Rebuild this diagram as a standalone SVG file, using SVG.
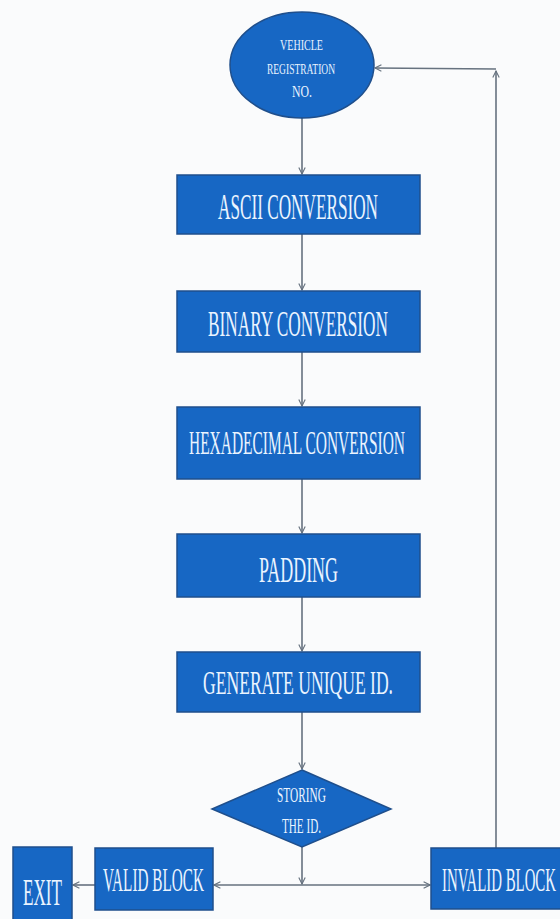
<svg xmlns="http://www.w3.org/2000/svg" width="560" height="919" viewBox="0 0 560 919">
<defs>
<style>
.node{fill:#1767c4;stroke:#1f4f8c;stroke-width:1.5}
.lbl{fill:#eaf4ff;font-family:"Liberation Serif",serif;}
.edge{fill:none;stroke:#66727f;stroke-width:1.6}
</style>
<marker id="ah" viewBox="0 0 10 10" refX="9" refY="5" markerWidth="8" markerHeight="8" orient="auto" markerUnits="userSpaceOnUse">
<path d="M1,1 L9,5 L1,9" fill="none" stroke="#66727f" stroke-width="1.4"/>
</marker>
</defs>
<rect width="560" height="919" fill="#fafbfc"/>
<g id="connectors">
<line class="edge" x1="302" y1="118" x2="302" y2="174" marker-end="url(#ah)"/>
<line class="edge" x1="302" y1="234" x2="302" y2="290" marker-end="url(#ah)"/>
<line class="edge" x1="302" y1="352" x2="302" y2="406" marker-end="url(#ah)"/>
<line class="edge" x1="302" y1="479" x2="302" y2="533" marker-end="url(#ah)"/>
<line class="edge" x1="302" y1="597" x2="302" y2="651" marker-end="url(#ah)"/>
<line class="edge" x1="302" y1="712" x2="302" y2="769" marker-end="url(#ah)"/>
<line class="edge" x1="302" y1="847" x2="302" y2="884" marker-end="url(#ah)"/>
<line class="edge" x1="302" y1="885" x2="214" y2="885" marker-end="url(#ah)"/>
<line class="edge" x1="302" y1="885" x2="430" y2="885" marker-end="url(#ah)"/>
<line class="edge" x1="95" y1="885" x2="73" y2="885" marker-end="url(#ah)"/>
<line class="edge" x1="496" y1="848" x2="496" y2="71" marker-end="url(#ah)"/>
<line class="edge" x1="496" y1="69" x2="375" y2="68" marker-end="url(#ah)"/>
</g>
<g id="vehicle">
<ellipse class="node" cx="302" cy="65" rx="72" ry="53"/>
<text class="lbl" x="280" y="50" font-size="14" textLength="43" lengthAdjust="spacingAndGlyphs">VEHICLE</text>
<text class="lbl" x="267" y="74" font-size="15" textLength="68" lengthAdjust="spacingAndGlyphs">REGISTRATION</text>
<text class="lbl" x="292" y="97" font-size="16" textLength="20" lengthAdjust="spacingAndGlyphs">NO.</text>
</g>
<g id="ascii">
<rect class="node" x="177" y="175" width="243" height="59"/>
<text class="lbl" x="218" y="219" font-size="36" textLength="160" lengthAdjust="spacingAndGlyphs">ASCII CONVERSION</text>
</g>
<g id="binary">
<rect class="node" x="177" y="291" width="243" height="61"/>
<text class="lbl" x="208" y="336" font-size="35" textLength="180" lengthAdjust="spacingAndGlyphs">BINARY CONVERSION</text>
</g>
<g id="hex">
<rect class="node" x="177" y="407" width="243" height="72"/>
<text class="lbl" x="189" y="454" font-size="33" textLength="216" lengthAdjust="spacingAndGlyphs">HEXADECIMAL CONVERSION</text>
</g>
<g id="padding">
<rect class="node" x="177" y="534" width="243" height="63"/>
<text class="lbl" x="259" y="582" font-size="36" textLength="79" lengthAdjust="spacingAndGlyphs">PADDING</text>
</g>
<g id="generate">
<rect class="node" x="177" y="652" width="243" height="60"/>
<text class="lbl" x="203" y="694" font-size="34" textLength="190" lengthAdjust="spacingAndGlyphs">GENERATE UNIQUE ID.</text>
</g>
<g id="storing">
<polygon class="node" points="302,770 391,809 302,847 212,809"/>
<text class="lbl" x="277" y="802" font-size="22" textLength="49" lengthAdjust="spacingAndGlyphs">STORING</text>
<text class="lbl" x="282" y="833" font-size="22" textLength="39" lengthAdjust="spacingAndGlyphs">THE ID.</text>
</g>
<g id="exit">
<rect class="node" x="13" y="847" width="59" height="80"/>
<text class="lbl" x="23" y="905" font-size="38" textLength="39" lengthAdjust="spacingAndGlyphs">EXIT</text>
</g>
<g id="valid">
<rect class="node" x="95" y="848" width="118" height="62"/>
<text class="lbl" x="103" y="891" font-size="33" textLength="101" lengthAdjust="spacingAndGlyphs">VALID BLOCK</text>
</g>
<g id="invalid">
<rect class="node" x="431" y="848" width="135" height="61"/>
<text class="lbl" x="442" y="891" font-size="33" textLength="114" lengthAdjust="spacingAndGlyphs">INVALID BLOCK</text>
</g>
</svg>
